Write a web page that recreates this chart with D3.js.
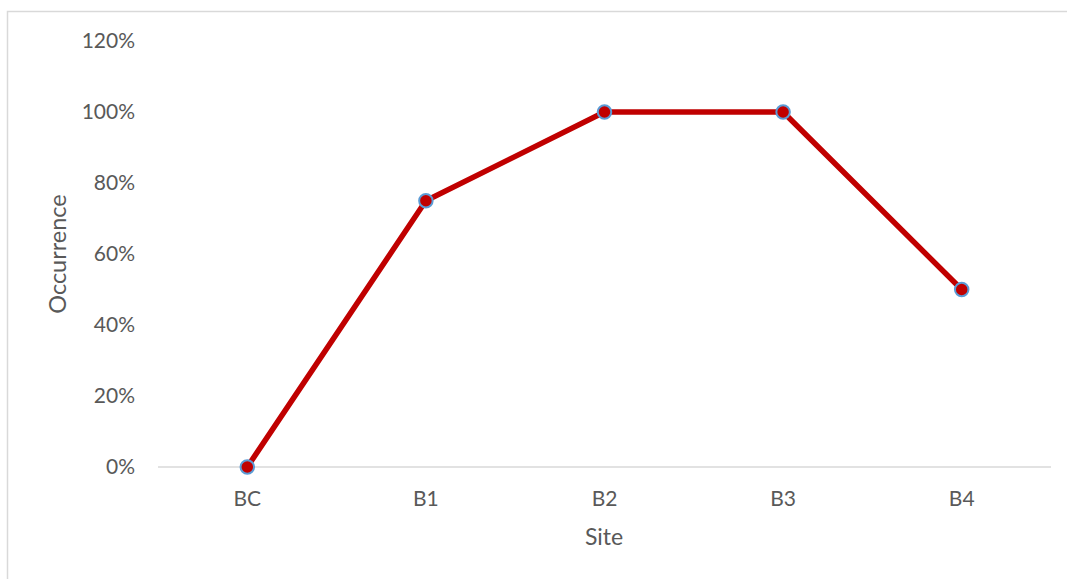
<!DOCTYPE html>
<html><head><meta charset="utf-8">
<script src="https://cdn.jsdelivr.net/npm/d3@7"></script>
<style>html,body{margin:0;padding:0;background:#fff;}svg{display:block;}</style>
</head><body>
<script>
const categories = ["BC","B1","B2","B3","B4"];
const occurrence = [0, 0.75, 1.0, 1.0, 0.5];
const yTicks = [0, 0.2, 0.4, 0.6, 0.8, 1.0, 1.2];
const xTitle = "Site";
const yTitle = "Occurrence";

const W = 1067, H = 579;
const svg = d3.select("body").append("svg").attr("width", W).attr("height", H);
const font = "Lato, 'Open Sans', sans-serif";
const grey = "#595959";

// chart border (top & left visible)
svg.append("path").attr("d", `M7.5,${H} V11.5 H${W}`).attr("fill","none").attr("stroke","#D9D9D9").attr("stroke-width",1.5);

const x = d3.scaleBand().domain(categories).range([158, 1051]);
const y = d3.scaleLinear().domain([0, 1.2]).range([467, 41]);

// x axis line
svg.append("line").attr("x1",158).attr("x2",1051).attr("y1",y(0)).attr("y2",y(0))
  .attr("stroke","#D9D9D9").attr("stroke-width",1.5);

const yAxis = d3.axisLeft(y).tickValues(yTicks).tickFormat(d3.format(".0%")).tickSize(0).tickPadding(0);
const gy = svg.append("g").attr("transform","translate(135,0)").call(yAxis);
gy.select(".domain").remove();
gy.selectAll("text").attr("font-family",font).attr("font-size",21).attr("fill",grey);

const xAxis = d3.axisBottom(x).tickSize(0).tickPadding(0);
const gx = svg.append("g").attr("transform",`translate(0,${y(0)+32})`).call(xAxis);
gx.select(".domain").remove();
gx.selectAll("text").attr("font-family",font).attr("font-size",21).attr("fill",grey).attr("dy","0.35em");

svg.append("text").attr("x", 604).attr("y", 537).attr("dy","0.35em").attr("text-anchor","middle")
  .attr("font-family",font).attr("font-size",23).attr("fill",grey).text(xTitle);
svg.append("text").attr("transform","translate(58,254) rotate(-90)").attr("dy","0.35em").attr("text-anchor","middle")
  .attr("font-family",font).attr("font-size",23.5).attr("fill",grey).text(yTitle);

const cx = d => x(d) + x.bandwidth()/2;
const line = d3.line().x((d,i)=>cx(categories[i])).y(d=>y(d));
svg.append("path").datum(occurrence).attr("d", line).attr("fill","none")
  .attr("stroke","#C00000").attr("stroke-width",5.5).attr("stroke-linejoin","round");

svg.selectAll("circle.m").data(occurrence).join("circle").attr("class","m")
  .attr("cx",(d,i)=>cx(categories[i])).attr("cy",d=>y(d)).attr("r",6.75)
  .attr("fill","#C00000").attr("stroke","#5B9BD5").attr("stroke-width",2);
</script>
</body></html>
